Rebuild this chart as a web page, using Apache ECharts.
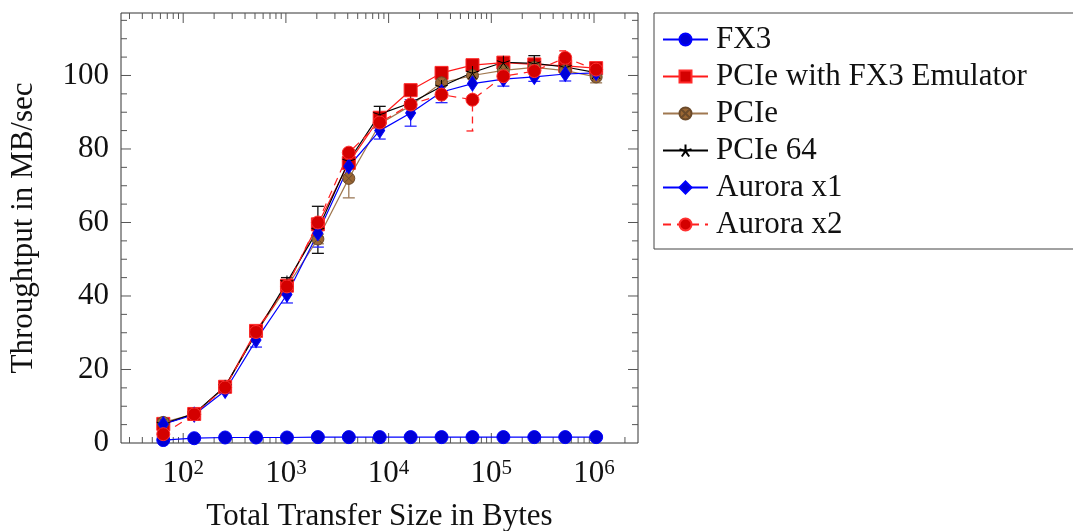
<!DOCTYPE html>
<html>
<head>
<meta charset="utf-8">
<script src="https://cdn.jsdelivr.net/npm/echarts@6/dist/echarts.min.js"></script>
<style>
  html, body { margin: 0; padding: 0; background: #fff; }
  #chart { width: 1073px; height: 531px; }
</style>
</head>
<body>
<div id="chart"></div>
<script>
// transfer sizes in bytes
var sizes = [64, 128, 256, 512, 1024, 2048, 4096, 8192, 16384, 32768, 65536, 131072, 262144, 524288, 1048576];

// throughput MB/sec
var fx3     = [0.8, 1.3, 1.5, 1.5, 1.5, 1.6, 1.6, 1.6, 1.6, 1.6, 1.6, 1.6, 1.6, 1.6, 1.6];
var pcieEmu = [5.2, 7.9, 15.3, 30.5, 42.8, 59.5, 76.2, 88.5, 96.0, 100.7, 102.8, 103.5, 103.0, 102.6, 102.0];
var pcie    = [5.6, 7.9, 15.2, 30.0, 42.5, 55.5, 72.0, 86.8, 91.8, 98.0, 100.0, 101.4, 102.2, 101.3, 99.6];
var pcie64  = [5.2, 8.0, 15.4, 29.8, 43.8, 58.0, 76.8, 89.5, 92.5, 97.0, 100.8, 103.6, 103.3, 102.3, 100.8];
var aurora1 = [5.1, 7.7, 14.2, 28.0, 40.4, 57.1, 75.3, 85.0, 89.8, 95.5, 97.8, 99.0, 99.6, 100.4, 100.7];
var aurora2 = [2.4, 7.8, 15.1, 30.2, 42.6, 60.0, 79.0, 87.2, 92.1, 94.8, 93.4, 99.8, 101.2, 104.8, 101.6];

// error bar half-heights (0 = no visible bar)
var pcieEmuErr = [0, 0, 0, 0, 0, 0, 0, 0, 0, 1.2, 0, 0.8, 0, 1.0, 1.0];
var pcieErr    = [0, 0, 0, 0, 0, 1.3, 5.3, 0, 0, 0, 0, 0, 0, 0, 1.6];
var pcie64Err  = [0.5, 0, 0, 0, 1.2, 6.4, 0, 2.1, 0, 0, 0, 0, 2.1, 0, 0];
var aurora1Err = [0, 0, 0.5, 1.9, 2.3, 3.8, 0, 2.3, 3.6, 2.9, 0, 1.9, 1.2, 1.9, 0];
var aurora2Err = [0, 0, 0, 0, 0, 0, 0, 0, 0, 0, 8.5, 0, 0, 1.9, 0];

var seriesNames = ['FX3', 'PCIe with FX3 Emulator', 'PCIe', 'PCIe 64', 'Aurora x1', 'Aurora x2'];

// axis ranges and tick values
var X_MIN = 24.8, X_MAX = 2.68e6, Y_MIN = 0, Y_MAX = 117;
var xMajorTicks = [100, 1000, 10000, 100000, 1000000];
var yMajorTicks = [20, 40, 60, 80, 100];
var yMinorTicks = [5, 10, 15, 25, 30, 35, 45, 50, 55, 65, 70, 75, 85, 90, 95, 105, 110, 115];

var FONT = 'Liberation Serif';
var chart = echarts.init(document.getElementById('chart'));

function pairs(vals) {
  return sizes.map(function (s, i) { return [s, vals[i]]; });
}

// tick marks: [x, y, kind, length]; kind 0 = x tick, 1 = y tick
var tickData = [];
xMajorTicks.forEach(function (v) { tickData.push([v, Y_MIN, 0, 10]); });
[10, 100, 1000, 10000, 100000, 1000000].forEach(function (d) {
  for (var m = 2; m <= 9; m++) {
    var v = d * m;
    if (v > X_MIN && v < X_MAX) tickData.push([v, Y_MIN, 0, 6]);
  }
});
yMajorTicks.forEach(function (v) { tickData.push([X_MIN, v, 1, 10]); });
yMinorTicks.forEach(function (v) { tickData.push([X_MIN, v, 1, 6]); });

function renderTick(params, api) {
  var kind = api.value(2), len = api.value(3);
  var st = { stroke: '#555', lineWidth: 1 };
  if (kind === 0) {
    var b = api.coord([api.value(0), Y_MIN]);
    var t = api.coord([api.value(0), Y_MAX]);
    return { type: 'group', children: [
      { type: 'line', shape: { x1: b[0], y1: b[1], x2: b[0], y2: b[1] - len }, style: st },
      { type: 'line', shape: { x1: t[0], y1: t[1], x2: t[0], y2: t[1] + len }, style: st }
    ] };
  }
  var l = api.coord([X_MIN, api.value(1)]);
  var r = api.coord([X_MAX, api.value(1)]);
  return { type: 'group', children: [
    { type: 'line', shape: { x1: l[0], y1: l[1], x2: l[0] + len, y2: l[1] }, style: st },
    { type: 'line', shape: { x1: r[0], y1: r[1], x2: r[0] - len, y2: r[1] }, style: st }
  ] };
}

function errorBars(vals, errs, color, dashed) {
  return {
    type: 'custom',
    silent: true,
    data: sizes.map(function (s, i) { return [s, vals[i], errs[i]]; }),
    encode: { x: 0, y: 1 },
    renderItem: function (params, api) {
      var e = api.value(2);
      if (!e) return null;
      var x = api.value(0), y = api.value(1);
      var hi = api.coord([x, y + e]), lo = api.coord([x, y - e]);
      var st = { stroke: color, lineWidth: 1.3, lineDash: dashed ? [7, 5] : null };
      return { type: 'group', children: [
        { type: 'line', shape: { x1: hi[0], y1: hi[1], x2: lo[0], y2: lo[1] }, style: st },
        { type: 'line', shape: { x1: hi[0] - 6, y1: hi[1], x2: hi[0] + 6, y2: hi[1] }, style: st },
        { type: 'line', shape: { x1: lo[0] - 6, y1: lo[1], x2: lo[0] + 6, y2: lo[1] }, style: st }
      ] };
    }
  };
}

var starPath = 'path://M0,0L0,-10M0,0L9.51,-3.09M0,0L5.88,8.09M0,0L-5.88,8.09M0,0L-9.51,-3.09';
var otimesPath = 'path://M10,0A10,10,0,1,1,-10,0A10,10,0,1,1,10,0ZM-7.07,-7.07L7.07,7.07M-7.07,7.07L7.07,-7.07';

function lineSeries(name, vals, lineColor, symbol, size, fill, border, dashed) {
  return {
    name: name,
    type: 'line',
    data: pairs(vals),
    symbol: symbol,
    symbolSize: size,
    showAllSymbol: true,
    lineStyle: { color: lineColor, width: 1.2, type: dashed ? [8, 6] : 'solid' },
    itemStyle: { color: fill, borderColor: border, borderWidth: 1 }
  };
}

var option = {
  animation: false,
  backgroundColor: '#fff',
  textStyle: { fontFamily: FONT },
  grid: {
    left: 121, right: 435, top: 13, bottom: 88,
    outerBoundsMode: 'none',
    show: true, borderColor: '#333', borderWidth: 1
  },
  legend: {
    orient: 'vertical',
    left: 654, top: 13,
    padding: [11, 9, 9, 8],
    itemWidth: 45, itemHeight: 15, itemGap: 6,
    borderColor: '#444', borderWidth: 1,
    textStyle: { fontFamily: FONT, fontSize: 31, color: '#111', lineHeight: 30, width: 350, padding: [0, 0, 0, 3] },
    data: seriesNames
  },
  xAxis: {
    type: 'log', logBase: 10, min: X_MIN, max: X_MAX,
    name: 'Total Transfer Size in Bytes',
    nameLocation: 'middle', nameGap: 58,
    nameTextStyle: { fontFamily: FONT, fontSize: 31, color: '#111' },
    axisLine: { show: false },
    axisTick: { show: false },
    splitLine: { show: false },
    axisLabel: {
      margin: 15,
      formatter: function (v) {
        var p = Math.log(v) / Math.LN10;
        if (Math.abs(p - Math.round(p)) > 1e-6) return '';
        return '{b|10}{s|' + Math.round(p) + '}';
      },
      rich: {
        b: { fontFamily: FONT, fontSize: 31, color: '#111', lineHeight: 32 },
        s: { fontFamily: FONT, fontSize: 21, color: '#111', lineHeight: 20, verticalAlign: 'top' }
      }
    }
  },
  yAxis: {
    type: 'value', min: Y_MIN, max: Y_MAX, interval: 20,
    name: 'Throughtput in MB/sec',
    nameLocation: 'middle', nameGap: 82,
    nameTextStyle: { fontFamily: FONT, fontSize: 31, color: '#111' },
    axisLine: { show: false },
    axisTick: { show: false },
    splitLine: { show: false },
    axisLabel: {
      margin: 12, fontFamily: FONT, fontSize: 31, color: '#111',
      showMaxLabel: false,
      formatter: function (v) { return v % 20 === 0 ? String(v) : ''; }
    }
  },
  series: [
    { type: 'custom', silent: true, data: tickData, encode: { x: 0, y: 1 }, renderItem: renderTick },
    lineSeries('FX3', fx3, '#0000ff', 'circle', 13, '#0000d8', '#0000ff', false),
    errorBars(pcieEmu, pcieEmuErr, '#ff3030', false),
    lineSeries('PCIe with FX3 Emulator', pcieEmu, '#ff1a1a', 'rect', 13, '#d40000', '#ff2a2a', false),
    errorBars(pcie, pcieErr, '#9c7a58', false),
    lineSeries('PCIe', pcie, '#a07850', otimesPath, 12, '#9a6633', '#6b4a2a', false),
    errorBars(pcie64, pcie64Err, '#111', false),
    lineSeries('PCIe 64', pcie64, '#000', starPath, 13, '#000', '#000', false),
    errorBars(aurora1, aurora1Err, '#2a2aff', false),
    lineSeries('Aurora x1', aurora1, '#0000ff', 'diamond', [10, 15], '#0000d8', '#0000ff', false),
    errorBars(aurora2, aurora2Err, '#ff2020', true),
    lineSeries('Aurora x2', aurora2, '#ff2020', 'circle', 13, '#d40000', '#ff3030', true)
  ]
};

chart.setOption(option);
</script>
</body>
</html>
